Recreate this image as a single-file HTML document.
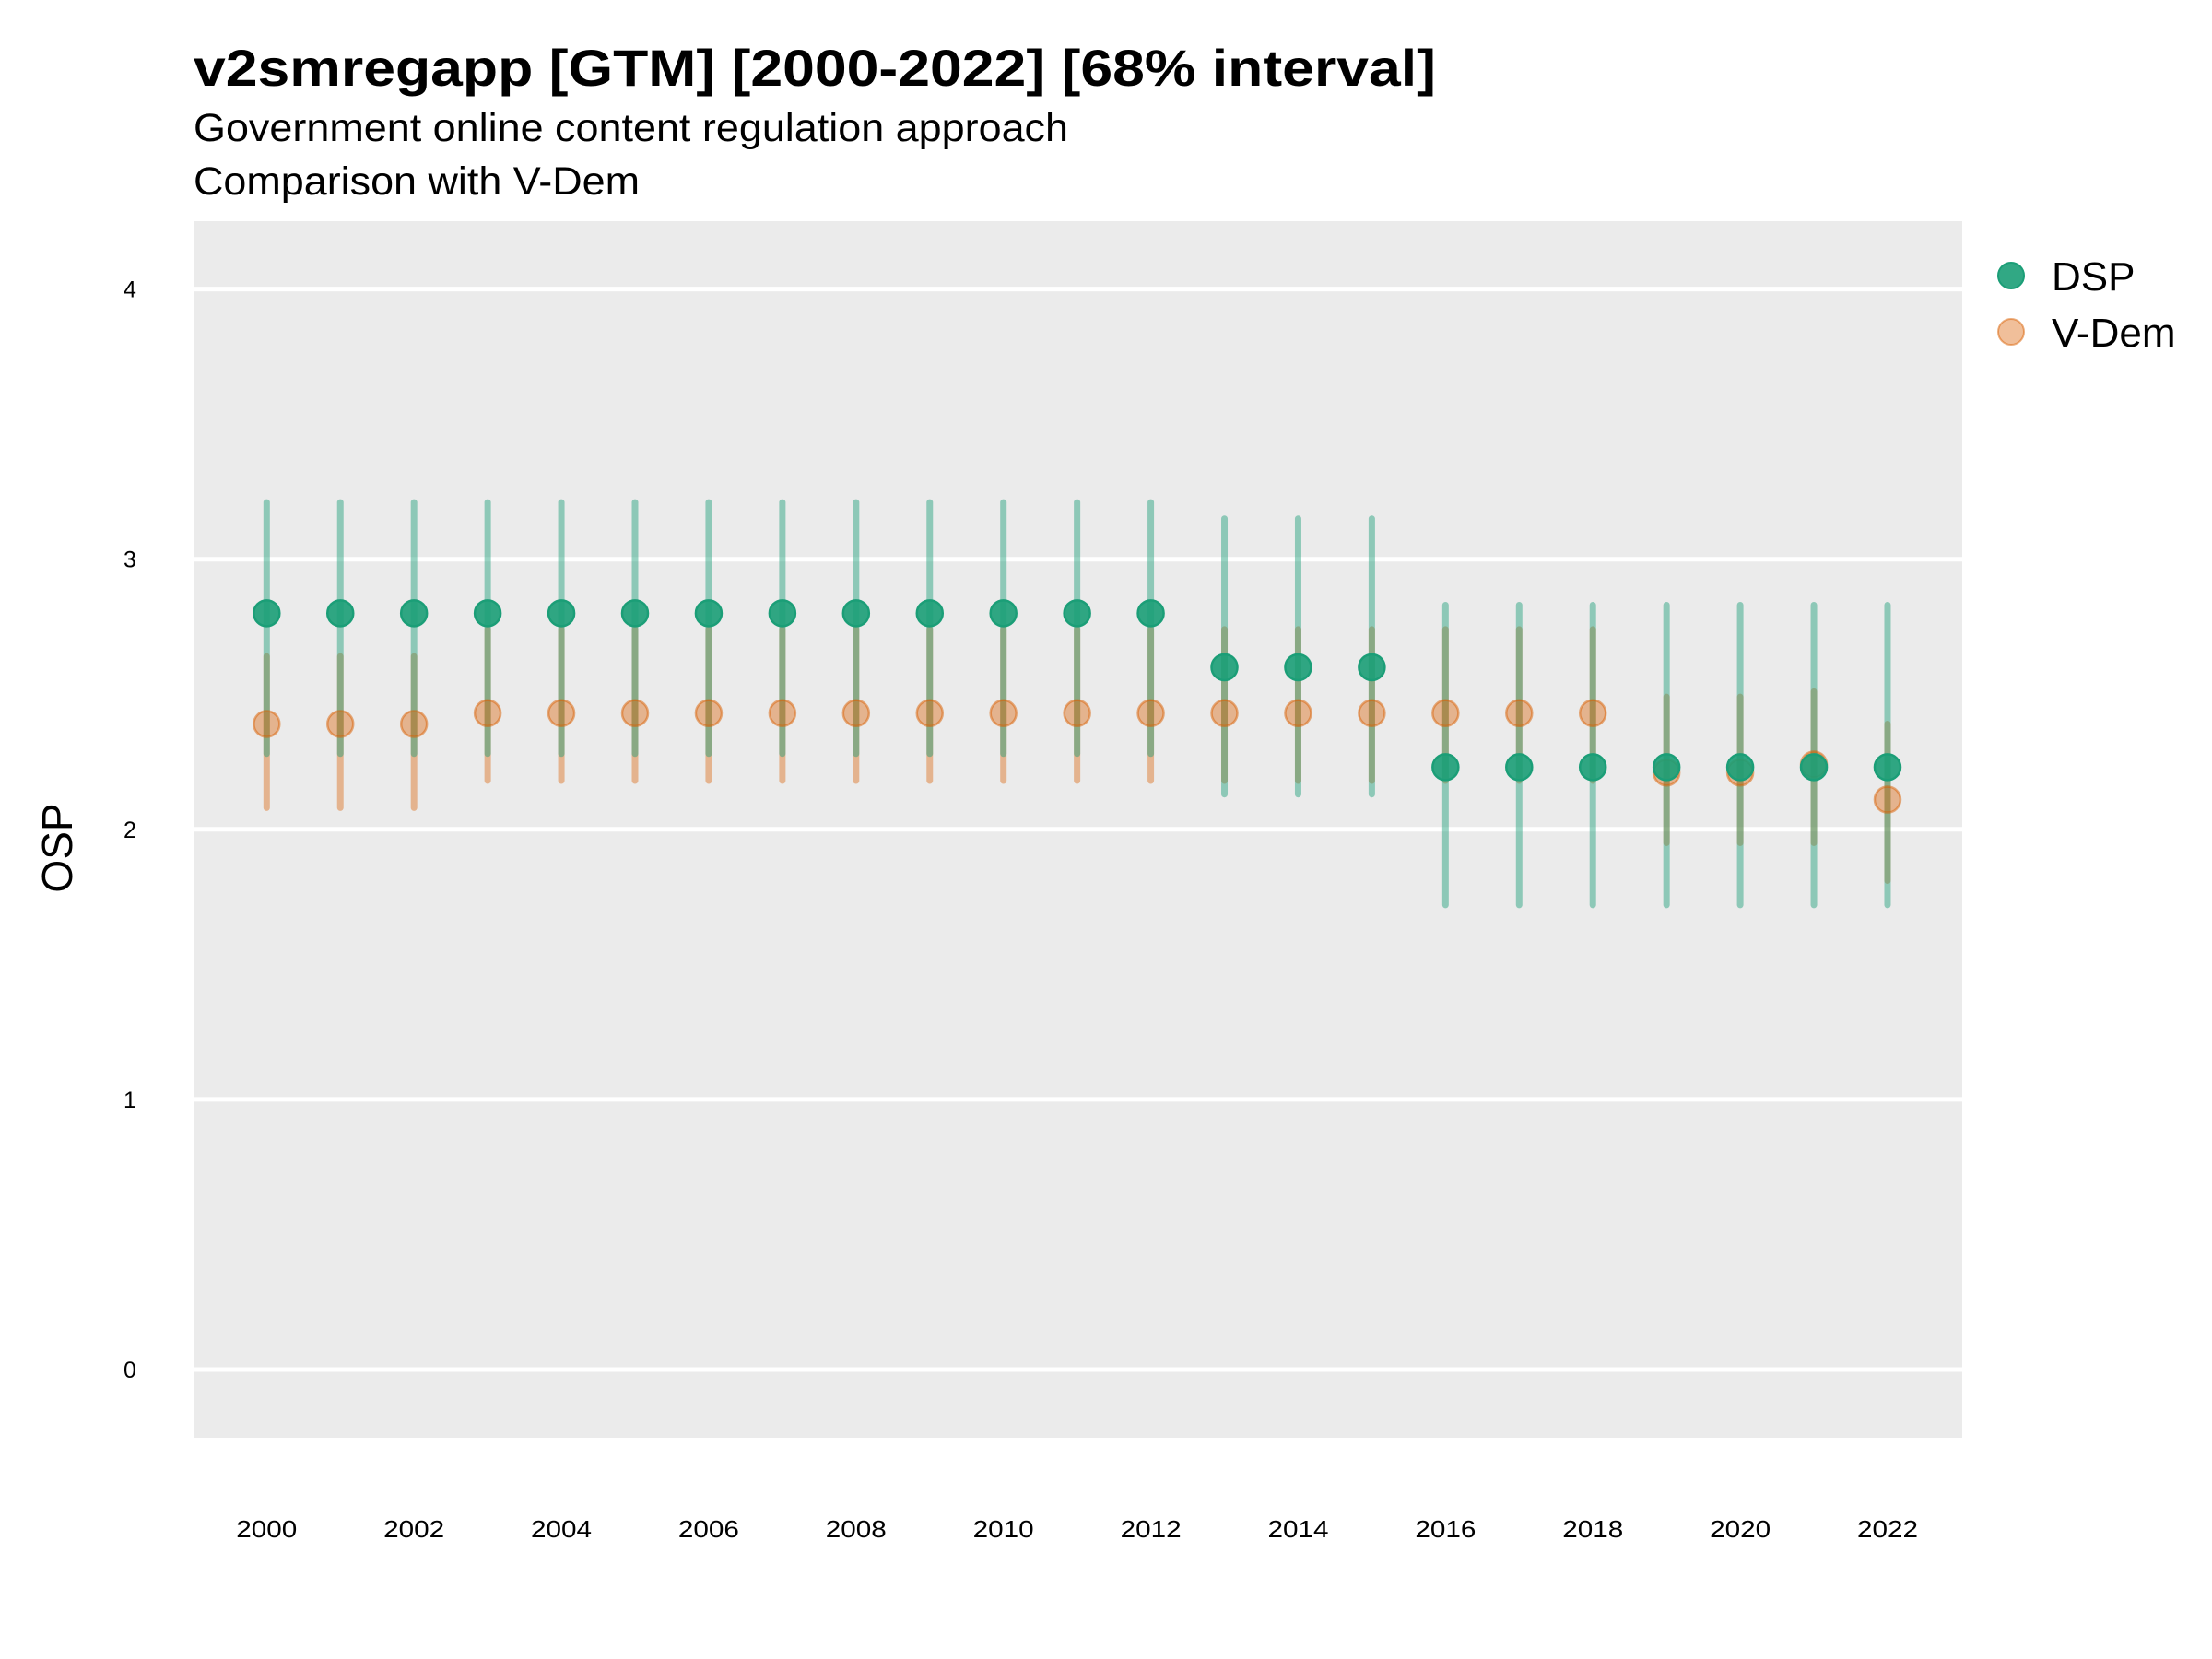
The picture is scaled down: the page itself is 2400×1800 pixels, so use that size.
<!DOCTYPE html>
<html><head><meta charset="utf-8"><style>
html,body{margin:0;padding:0;background:#fff;}
svg{display:block;font-family:"Liberation Sans",sans-serif;}
</style></head><body>
<svg id="chart" width="2400" height="1800" viewBox="0 0 2400 1800">
<text x="210" y="93" font-size="56" font-weight="bold" textLength="1348" lengthAdjust="spacingAndGlyphs">v2smregapp [GTM] [2000-2022] [68% interval]</text>
<text x="210" y="153" font-size="43" textLength="949" lengthAdjust="spacingAndGlyphs">Government online content regulation approach</text>
<text x="210" y="211" font-size="43" textLength="484" lengthAdjust="spacingAndGlyphs">Comparison with V-Dem</text>
<rect x="210" y="240" width="1919" height="1320" fill="#ebebeb"/>
<g id="grid"></g>
<g id="yticks"></g>
<g id="xticks"></g>
<g id="bars"></g>
<g id="points"></g>
<text transform="translate(78,920) rotate(-90)" text-anchor="middle" font-size="46">OSP</text>
<g>
<circle cx="2182" cy="299" r="14" fill="#1b9e77" fill-opacity="0.9" stroke="#1b9e77" stroke-width="2"/>
<text x="2226" y="315" font-size="44">DSP</text>
<circle cx="2182" cy="360" r="14" fill="#d95f02" fill-opacity="0.4" stroke="#d95f02" stroke-opacity="0.5" stroke-width="2"/>
<text x="2226" y="376" font-size="44">V-Dem</text>
</g>
</svg>
<script>
const years=[2000,2001,2002,2003,2004,2005,2006,2007,2008,2009,2010,2011,2012,2013,2014,2015,2016,2017,2018,2019,2020,2021,2022];
const dspVal=[2.8,2.8,2.8,2.8,2.8,2.8,2.8,2.8,2.8,2.8,2.8,2.8,2.8,2.6,2.6,2.6,2.23,2.23,2.23,2.23,2.23,2.23,2.23];
const dspLow=[2.28,2.28,2.28,2.28,2.28,2.28,2.28,2.28,2.28,2.28,2.28,2.28,2.28,2.13,2.13,2.13,1.72,1.72,1.72,1.72,1.72,1.72,1.72];
const dspHigh=[3.21,3.21,3.21,3.21,3.21,3.21,3.21,3.21,3.21,3.21,3.21,3.21,3.21,3.15,3.15,3.15,2.83,2.83,2.83,2.83,2.83,2.83,2.83];
const vdemVal=[2.39,2.39,2.39,2.43,2.43,2.43,2.43,2.43,2.43,2.43,2.43,2.43,2.43,2.43,2.43,2.43,2.43,2.43,2.43,2.21,2.21,2.24,2.11];
const vdemLow=[2.08,2.08,2.08,2.18,2.18,2.18,2.18,2.18,2.18,2.18,2.18,2.18,2.18,2.18,2.18,2.18,2.18,2.18,2.18,1.95,1.95,1.95,1.81];
const vdemHigh=[2.64,2.64,2.64,2.74,2.74,2.74,2.74,2.74,2.74,2.74,2.74,2.74,2.74,2.74,2.74,2.74,2.74,2.74,2.74,2.49,2.49,2.51,2.39];
const yTicks=[0,1,2,3,4];
const xTickLabels=[2000,2002,2004,2006,2008,2010,2012,2014,2016,2018,2020,2022];
const NS='http://www.w3.org/2000/svg';
function xS(y){return 289.3+(y-2000)*79.94;}
function yS(v){return 1486-v*293.1;}
function mk(tag,attrs,parent){const e=document.createElementNS(NS,tag);for(const k in attrs)e.setAttribute(k,attrs[k]);parent.appendChild(e);return e;}
const grid=document.getElementById('grid'),yt=document.getElementById('yticks'),xt=document.getElementById('xticks'),bars=document.getElementById('bars'),pts=document.getElementById('points');
yTicks.forEach(t=>{
  const l=mk('line',{x1:210,x2:2129,y1:yS(t),y2:yS(t),stroke:'#fff','stroke-width':5},grid);
  
  
  const tx=mk('text',{x:141,y:yS(t)+9,'text-anchor':'middle','font-size':25},yt);
  tx.textContent=t;
  
  
});
xTickLabels.forEach(t=>{
  const tx=mk('text',{x:xS(t),y:1668,'text-anchor':'middle','font-size':26,textLength:66,lengthAdjust:'spacingAndGlyphs'},xt);
  tx.textContent=t;
  
  
});
years.forEach((yr,i)=>{
  const b2=mk('line',{x1:xS(yr),x2:xS(yr),y1:yS(vdemHigh[i]),y2:yS(vdemLow[i]),stroke:'#d95f02','stroke-opacity':0.4,'stroke-width':7,'stroke-linecap':'round'},bars);
  
  
});
years.forEach((yr,i)=>{
  const b1=mk('line',{x1:xS(yr),x2:xS(yr),y1:yS(dspHigh[i]),y2:yS(dspLow[i]),stroke:'#1b9e77','stroke-opacity':0.45,'stroke-width':7,'stroke-linecap':'round'},bars);
  
  
});
years.forEach((yr,i)=>{
  const p=mk('circle',{cx:xS(yr),cy:yS(vdemVal[i]),r:14,fill:'#d95f02','fill-opacity':0.4,stroke:'#d95f02','stroke-opacity':0.5,'stroke-width':2.5},pts);
  
  
});
years.forEach((yr,i)=>{
  const p=mk('circle',{cx:xS(yr),cy:yS(dspVal[i]),r:14,fill:'#1b9e77','fill-opacity':0.9,stroke:'#1b9e77','stroke-width':2.5},pts);
  
  
});
</script>
</body></html>
